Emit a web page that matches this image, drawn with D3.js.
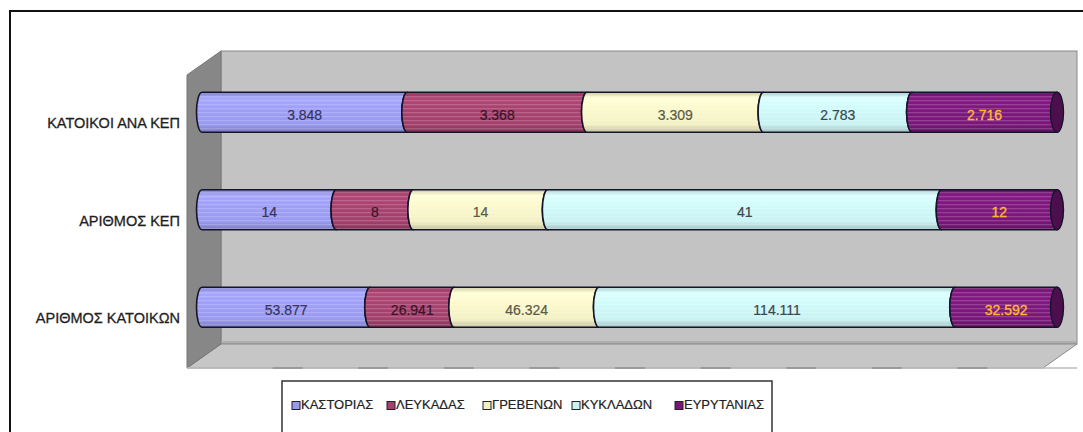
<!DOCTYPE html>
<html>
<head>
<meta charset="utf-8">
<script src="https://cdn.jsdelivr.net/npm/d3@7"></script>
<style>
  html, body { margin: 0; padding: 0; background: #fff; }
  svg { display: block; font-family: "Liberation Sans", Arial, sans-serif; }
</style>
</head>
<body>
<svg id="chart" width="1083" height="432"></svg>
<script>
// Categories (rows) and prefectures (stacked series)
const categories = ["ΚΑΤΟΙΚΟΙ ΑΝΑ ΚΕΠ", "ΑΡΙΘΜΟΣ ΚΕΠ", "ΑΡΙΘΜΟΣ ΚΑΤΟΙΚΩΝ"];
const seriesNames = ["ΚΑΣΤΟΡΙΑΣ", "ΛΕΥΚΑΔΑΣ", "ΓΡΕΒΕΝΩΝ", "ΚΥΚΛΑΔΩΝ", "ΕΥΡΥΤΑΝΙΑΣ"];

// Values per prefecture, in category order
const kastorias  = [3848, 14, 53877];
const lefkadas   = [3368, 8, 26941];
const grevenon   = [3309, 14, 46324];
const kykladon   = [2783, 41, 114111];
const evrytanias = [2716, 12, 32592];

// Value-axis ticks (hidden axis, 10% steps)
const percentTicks = [0, 0.1, 0.2, 0.3, 0.4, 0.5, 0.6, 0.7, 0.8, 0.9, 1];

// Styles
const fills      = ["#9999f0", "#a3406c", "#f3f0c4", "#c9f2f2", "#7a167a"];
const labelFills = ["#35355e", "#3a1426", "#5a5a48", "#3a4650", "#ffb82e"];

const seriesValues = [kastorias, lefkadas, grevenon, kykladon, evrytanias];
const table = categories.map((c, i) => {
  const row = { category: c };
  seriesNames.forEach((s, j) => { row[s] = seriesValues[j][i]; });
  return row;
});

const stacked = d3.stack().keys(seriesNames).offset(d3.stackOffsetExpand)(table);

const svg = d3.select("#chart");
const defs = svg.append("defs");

// 3D box geometry
const front = { x0: 187, x1: 1043, y0: 75, y1: 368 };
const depth = { dx: 34, dy: -24 };
const back = { x0: front.x0 + depth.dx, x1: front.x1 + depth.dx, y0: front.y0 + depth.dy, y1: front.y1 + depth.dy };

const x = d3.scaleLinear().domain([0, 1]).range([202, 1057]);
const y = d3.scaleBand().domain(categories).range([63.5, 356]).paddingInner(0.59).paddingOuter(0.295);
const frontX = d3.scaleLinear().domain([0, 1]).range([front.x0, front.x1]);

// Outer frame
svg.append("path")
  .attr("d", `M10,440 L10,11 L1090,11`)
  .attr("fill", "none").attr("stroke", "#111").attr("stroke-width", 2);

// Walls
const walls = svg.append("g");
walls.append("rect")
  .attr("x", back.x0).attr("y", back.y0)
  .attr("width", back.x1 - back.x0).attr("height", back.y1 - back.y0)
  .attr("fill", "#c3c3c3").attr("stroke", "#8a8a8a").attr("stroke-width", 1);
walls.append("polygon")
  .attr("points", [[front.x0, front.y1], [front.x1, front.y1], [back.x1, back.y1], [back.x0, back.y1]].join(" "))
  .attr("fill", "#c6c6c6").attr("stroke", "#8a8a8a").attr("stroke-width", 1);
walls.append("polygon")
  .attr("points", [[front.x0, front.y0], [back.x0, back.y0], [back.x0, back.y1], [front.x0, front.y1]].join(" "))
  .attr("fill", "#878787").attr("stroke", "#777").attr("stroke-width", 1);
walls.append("line")
  .attr("x1", back.x0).attr("x2", back.x1).attr("y1", back.y1 - 2).attr("y2", back.y1 - 2)
  .attr("stroke", "#a9a9a9").attr("stroke-width", 1.5);

// Front floor edge with faint tick segments
walls.append("line")
  .attr("x1", front.x0).attr("x2", back.x1).attr("y1", front.y1).attr("y2", front.y1)
  .attr("stroke", "#bdbdbd").attr("stroke-width", 1.5);
walls.selectAll("line.tick").data(percentTicks.slice(1, -1)).join("line")
  .attr("class", "tick")
  .attr("x1", d => frontX(d)).attr("x2", d => frontX(d) + 30)
  .attr("y1", front.y1).attr("y2", front.y1)
  .attr("stroke", "#8f8f8f").attr("stroke-width", 1.5);

// Cylinder shading per series
fills.forEach((c, i) => {
  const g = defs.append("linearGradient").attr("id", "cyl" + i)
    .attr("x1", 0).attr("y1", 0).attr("x2", 0).attr("y2", 1);
  const base = d3.color(c);
  g.append("stop").attr("offset", "0%").attr("stop-color", base.darker(0.5));
  g.append("stop").attr("offset", "14%").attr("stop-color", base.brighter(0.25));
  g.append("stop").attr("offset", "40%").attr("stop-color", base.brighter(0.1));
  g.append("stop").attr("offset", "80%").attr("stop-color", base);
  g.append("stop").attr("offset", "100%").attr("stop-color", base.darker(0.6));
});
const stripes = defs.append("pattern").attr("id", "stripes")
  .attr("patternUnits", "userSpaceOnUse").attr("width", 8).attr("height", 4);
stripes.append("rect").attr("x", 0).attr("y", 0).attr("width", 8).attr("height", 1.3)
  .attr("fill", "#fff").attr("opacity", 0.18);

const rx = 5.5;
function segPath(a, b, t, u, last) {
  const ry = (u - t) / 2;
  let p = `M${a},${t} A${rx},${ry} 0 0 0 ${a},${u} L${b},${u}`;
  p += last ? ` A${rx},${ry} 0 0 0 ${b},${t} Z` : ` A${rx},${ry} 0 0 1 ${b},${t} Z`;
  return p;
}

const fmt = d3.formatLocale({ decimal: ",", thousands: ".", grouping: [3], currency: ["", "€"] }).format(",");

const bars = svg.append("g");
stacked.forEach((layer, si) => {
  const last = si === stacked.length - 1;
  const g = bars.append("g");
  layer.forEach((d, ci) => {
    const t = y(categories[ci]), u = t + y.bandwidth();
    const path = segPath(x(d[0]), x(d[1]), t, u, last);
    g.append("path").attr("d", path).attr("fill", `url(#cyl${si})`);
    g.append("path").attr("d", path).attr("fill", "url(#stripes)")
      .attr("stroke", "#15152a").attr("stroke-width", 1.6).attr("stroke-linejoin", "round");
    if (last) {
      g.append("ellipse")
        .attr("cx", x(d[1])).attr("cy", (t + u) / 2)
        .attr("rx", rx + 1).attr("ry", (u - t) / 2)
        .attr("fill", d3.color(fills[si]).darker(1.3))
        .attr("stroke", "#15152a").attr("stroke-width", 1.4);
    }
  });
});

// Value labels
const labels = svg.append("g").attr("font-size", 14).attr("text-anchor", "middle");
stacked.forEach((layer, si) => {
  layer.forEach((d, ci) => {
    labels.append("text")
      .attr("x", (x(d[0]) + x(d[1])) / 2)
      .attr("y", y(categories[ci]) + y.bandwidth() / 2 + 4)
      .attr("dominant-baseline", "middle")
      .attr("fill", labelFills[si])
      .attr("stroke", labelFills[si]).attr("stroke-width", si === 4 ? 0.35 : 0.2)
      .text(fmt(d.data[seriesNames[si]]));
  });
});

// Category axis labels (front plane)
svg.append("g").attr("font-size", 14.5).attr("text-anchor", "end")
  .attr("fill", "#1e1e1e").attr("stroke", "#1e1e1e").attr("stroke-width", 0.3)
  .selectAll("text").data(categories).join("text")
  .attr("x", 180)
  .attr("y", d => y(d) + y.bandwidth() / 2 + 12)
  .attr("dominant-baseline", "middle")
  .text(d => d);

// Legend
const legend = svg.append("g");
legend.append("rect")
  .attr("x", 282).attr("y", 381).attr("width", 490).attr("height", 70)
  .attr("fill", "#fff").attr("stroke", "#333").attr("stroke-width", 1.5);
const legendX = [292, 387, 483, 572, 675];
const items = legend.selectAll("g.item").data(seriesNames).join("g")
  .attr("class", "item")
  .attr("transform", (d, i) => `translate(${legendX[i]},406)`);
items.append("rect")
  .attr("x", 0).attr("y", -4.5).attr("width", 8).attr("height", 8)
  .attr("fill", (d, i) => fills[i]).attr("stroke", "#222").attr("stroke-width", 1);
items.append("text")
  .attr("x", 9).attr("y", 0)
  .attr("dominant-baseline", "middle")
  .attr("font-size", 13).attr("fill", "#222").attr("stroke", "#222").attr("stroke-width", 0.2)
  .text(d => d);
</script>
</body>
</html>
